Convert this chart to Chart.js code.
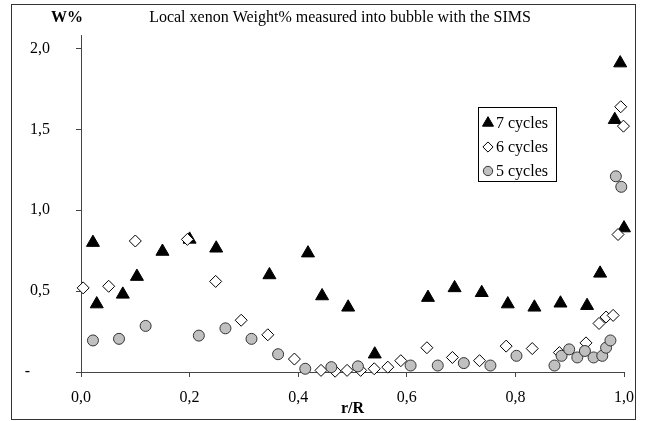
<!DOCTYPE html>
<html>
<head>
<meta charset="utf-8">
<script src="https://cdn.jsdelivr.net/npm/chart.js@4/dist/chart.umd.min.js"></script>
<style>
  html, body { margin: 0; padding: 0; background: #fff; }
  canvas { display: block; }
</style>
</head>
<body>
<canvas id="xenon" width="645" height="421"></canvas>
<script>
// r/R positions and Weight% values
const r7 = [0.022, 0.029, 0.077, 0.103, 0.150, 0.200, 0.249, 0.347, 0.418, 0.444, 0.492, 0.541,
            0.639, 0.688, 0.738, 0.786, 0.835, 0.883, 0.932, 0.956, 0.983, 0.993, 1.000];
const w7 = [0.80, 0.42, 0.48, 0.59, 0.745, 0.82, 0.765, 0.60, 0.735, 0.47, 0.40, 0.11,
            0.46, 0.52, 0.49, 0.42, 0.40, 0.425, 0.41, 0.61, 1.56, 1.91, 0.89];

const r6 = [0.004, 0.051, 0.100, 0.196, 0.248, 0.295, 0.344, 0.393, 0.442, 0.468, 0.490, 0.515,
            0.540, 0.565, 0.589, 0.637, 0.684, 0.734, 0.783, 0.831, 0.881, 0.930, 0.954, 0.967,
            0.980, 0.989, 0.994, 0.999];
const w6 = [0.52, 0.53, 0.81, 0.82, 0.56, 0.32, 0.23, 0.08, 0.01, 0.005, 0.01, 0.01,
            0.02, 0.03, 0.07, 0.15, 0.09, 0.07, 0.16, 0.145, 0.12, 0.18, 0.30, 0.34,
            0.35, 0.85, 1.64, 1.52];

const r5 = [0.022, 0.070, 0.119, 0.217, 0.266, 0.314, 0.363, 0.413, 0.461, 0.510, 0.607, 0.657,
            0.705, 0.754, 0.802, 0.872, 0.885, 0.899, 0.914, 0.928, 0.944, 0.960, 0.967, 0.975,
            0.985, 0.995];
const w5 = [0.195, 0.205, 0.285, 0.225, 0.27, 0.205, 0.11, 0.02, 0.03, 0.035, 0.04, 0.04,
            0.055, 0.04, 0.10, 0.04, 0.10, 0.14, 0.09, 0.13, 0.09, 0.10, 0.15, 0.195,
            1.21, 1.145];

const seriesNames = ["7 cycles", "6 cycles", "5 cycles"];
const yTicks = [0, 0.5, 1, 1.5, 2];
const titleText = "Local xenon Weight% measured into bubble with the SIMS";

const FONT = "'Liberation Serif', 'Times New Roman', serif";

function pts(xs, ys) {
  return xs.map((x, i) => ({ x: x, y: ys[i] }));
}
function comma(v) {
  return v.toFixed(1).replace(".", ",");
}

// frame, title, W% label and the boxed legend
const extras = {
  id: "extras",
  afterDraw(chart) {
    const ctx = chart.ctx;
    ctx.save();
    ctx.strokeStyle = "#333";
    ctx.lineWidth = 1;
    ctx.strokeRect(11.5, 4.5, 624, 415);

    ctx.fillStyle = "#000";
    ctx.textBaseline = "middle";
    ctx.textAlign = "center";
    ctx.font = "16px " + FONT;
    ctx.fillText(titleText, 340, 18);
    ctx.font = "bold 16px " + FONT;
    ctx.fillText("W%", 67, 18);

    // legend
    ctx.fillStyle = "#fff";
    ctx.fillRect(478.5, 107.5, 78, 74);
    ctx.strokeStyle = "#000";
    ctx.strokeRect(478.5, 107.5, 78, 74);
    ctx.font = "16px " + FONT;
    ctx.textAlign = "left";
    chart.data.datasets.forEach((ds, i) => {
      const y = 123 + i * 24;
      ctx.fillStyle = ds.pointBackgroundColor;
      ctx.strokeStyle = ds.pointBorderColor;
      ctx.lineWidth = ds.pointBorderWidth;
      Chart.helpers.drawPoint(ctx, {
        pointStyle: ds.pointStyle,
        radius: ds.pointRadius * 0.85,
        rotation: 0,
        borderWidth: ds.pointBorderWidth
      }, 488, y);
      ctx.fillStyle = "#000";
      ctx.fillText(ds.label, 496, y + 1);
    });
    ctx.restore();
  }
};

new Chart(document.getElementById("xenon"), {
  type: "scatter",
  data: {
    datasets: [
      {
        label: seriesNames[0], data: pts(r7, w7), order: 2, clip: false,
        pointStyle: "triangle", pointRadius: 7.5,
        pointBackgroundColor: "#000", pointBorderColor: "#000", pointBorderWidth: 1
      },
      {
        label: seriesNames[1], data: pts(r6, w6), order: 1, clip: false,
        pointStyle: "rectRot", pointRadius: 6,
        pointBackgroundColor: "#fff", pointBorderColor: "#000", pointBorderWidth: 1
      },
      {
        label: seriesNames[2], data: pts(r5, w5), order: 0, clip: false,
        pointStyle: "circle", pointRadius: 5.5,
        pointBackgroundColor: "#c0c0c0", pointBorderColor: "#333", pointBorderWidth: 1
      }
    ]
  },
  options: {
    responsive: false,
    animation: false,
    devicePixelRatio: 1,
    layout: { padding: { left: 11, top: 29, right: 19, bottom: 0 } },
    plugins: {
      legend: { display: false },
      title: { display: false },
      tooltip: { enabled: false }
    },
    scales: {
      x: {
        type: "linear",
        min: 0,
        max: 1,
        afterFit: (s) => { s.height = 49; },
        grid: { drawOnChartArea: false, drawTicks: true, tickLength: 5, color: "#444" },
        border: { display: true, color: "#444", width: 1 },
        ticks: {
          stepSize: 0.2,
          padding: 11,
          color: "#000",
          font: { family: FONT, size: 16 },
          maxRotation: 0,
          callback: (v) => comma(v)
        },
        title: {
          display: true,
          text: "r/R",
          color: "#000",
          font: { family: FONT, size: 16, weight: "bold" },
          padding: { top: 0, bottom: 3 }
        }
      },
      y: {
        type: "linear",
        min: 0,
        max: 2.08,
        afterFit: (s) => { s.width = 70; },
        afterBuildTicks: (s) => { s.ticks = yTicks.map((v) => ({ value: v })); },
        grid: { drawOnChartArea: false, drawTicks: true, tickLength: 5, color: "#444" },
        border: { display: true, color: "#444", width: 1 },
        ticks: {
          padding: 26,
          color: "#000",
          font: { family: FONT, size: 16 },
          callback: (v) => (v === 0 ? "-     " : comma(v))
        }
      }
    }
  },
  plugins: [extras]
});
</script>
</body>
</html>
